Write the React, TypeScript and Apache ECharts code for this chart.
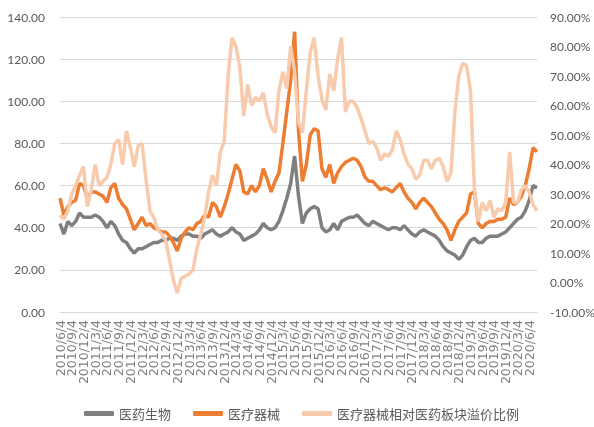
import React, { useEffect, useRef } from "react";
import * as echarts from "echarts";

// Monthly categories 2010/6/4 ... 2020/8/4
const categories: string[] = [];
for (let k = 0; k < 123; k++) {
  const t = 2010 * 12 + 5 + k;
  categories.push(`${Math.floor(t / 12)}/${(t % 12) + 1}/4`);
}

const seriesNames = ["医药生物", "医疗器械", "医疗器械相对医药板块溢价比例"];

const pharma: number[] = [
  42, 37, 43, 41, 43, 47, 45, 45, 45, 46, 45, 43, 40, 43, 41, 37, 34, 33, 30, 28, 30,
  30, 31, 32, 33, 33, 34, 34, 35, 35, 34, 36, 37, 37, 36, 36, 35, 37, 38,
  39, 37, 36, 37, 38, 40, 38, 37, 34, 35, 36, 37, 39, 42, 40, 39, 40, 43, 48, 54, 61, 74,
  55, 42, 47, 49, 50, 49, 40, 38, 39, 42, 39, 43, 44, 45, 45, 46, 44, 42, 41, 43, 42, 41,
  40, 39, 40, 40, 39, 41, 39, 37, 36, 38, 39, 38, 37, 36, 34, 31, 29, 28, 27, 25, 27, 31,
  34, 35, 33, 33, 35, 36, 36, 36, 37, 38, 40, 42, 44, 45, 48, 53, 60, 59,
];

const device: number[] = [
  54, 46, 50, 52, 53, 61, 60, 54, 57, 57, 56, 55, 52, 59, 61, 54, 51, 49, 44, 39, 42, 45,
  41, 42, 40, 39, 38, 38, 36, 33, 29,
  35, 38, 40, 39, 42, 43, 46, 45, 52, 50, 45, 50, 56, 63, 70, 67, 57, 56, 60, 57, 60, 68,
  63, 57, 62, 66, 80, 95, 110, 133,
  86, 62, 70, 84, 87, 86, 68, 64, 70, 61, 66, 69, 71, 72, 73, 72, 69, 64, 62, 62, 60, 58,
  59, 58, 57, 59, 61, 57, 54, 52, 49, 52, 54, 52, 50, 47, 44, 42, 39, 34, 39, 43, 45, 47,
  56, 57, 42, 40, 42, 43, 43, 44, 44, 45, 54, 51, 52, 55, 60, 68, 78, 76,
];

const premium: number[] = [
  22.8, 21.4, 24.3, 30.0, 32.8, 36.4, 39.3, 25.7, 31.4, 40.0, 32.8, 34.3, 35.7, 40.0, 47.1,
  48.5, 40.0, 51.4, 45.7, 39.3, 46.4, 47.1, 35.0, 24.3, 22.1, 17.8, 16.4, 14.3, 7.9, 0.7, -3.6,
  1.4, 2.1, 2.9, 4.3, 11.4, 16.4, 22.1, 30.7, 36.4, 32.8, 44.3, 47.8, 70.0, 83.0, 80.0, 72.8,
  56.4, 67.1, 60.0, 62.8, 61.4, 64.3, 57.1, 52.8, 50.7, 65.0, 71.4, 65.7, 80.0, 71.4,
  54.3, 50.7, 65.0, 78.0, 83.0, 70.0, 62.1, 58.5, 70.7, 65.0, 75.7, 83.0, 57.8, 61.4, 61.4,
  59.3, 55.7, 51.4, 47.1, 47.8, 45.7, 41.4, 43.6, 42.8, 45.0, 51.4, 48.5, 43.6, 40.0, 38.6,
  35.0, 36.4, 41.4, 41.4, 38.6, 41.4, 42.1, 39.3, 34.3, 37.1, 57.8, 70.0, 74.3, 73.5, 65.0,
  31.4, 20.7, 27.1, 24.3, 27.8, 22.1, 25.0, 24.3, 27.1, 44.3, 27.1, 27.1, 31.4, 32.8, 30.7,
  26.4, 24.3,
];

const colors = ["#7F7F7F", "#ED7D31", "#F8CBAD"];

export default function App() {
  const ref = useRef<HTMLDivElement>(null);
  useEffect(() => {
    if (!ref.current) return;
    const chart = echarts.init(ref.current, undefined, { renderer: "svg" });
    const labelColor = "#595959";
    chart.setOption({
      animation: false,
      color: colors,
      grid: {
        left: 60,
        right: 57,
        top: 17,
        bottom: 115,
        containLabel: false,
        outerBoundsMode: "none",
      },
      legend: {
        data: seriesNames,
        left: 79,
        top: 402,
        icon: "roundRect",
        itemWidth: 30,
        itemHeight: 5,
        itemGap: 22,
        textStyle: {
          fontFamily: "Noto Sans CJK SC",
          fontSize: 13,
          color: labelColor,
        },
      },
      xAxis: {
        type: "category",
        data: categories,
        boundaryGap: false,
        axisLine: { show: true, lineStyle: { color: "#D9D9D9", width: 1 } },
        axisTick: { show: false },
        splitLine: { show: false },
        axisLabel: {
          interval: 0,
          formatter: (v: string, idx: number) => (idx % 3 === 0 && idx <= 120 ? v : ""),
          rotate: 90,
          margin: 8,
          fontFamily: "DejaVu Sans",
          fontSize: 12.5,
          color: "#808080",
        },
      },
      yAxis: [
        {
          type: "value",
          min: 0,
          max: 140,
          interval: 20,
          axisLine: { show: false },
          axisTick: { show: false },
          splitLine: { show: true, lineStyle: { color: "#D9D9D9", width: 1 } },
          axisLabel: {
            margin: 15,
            fontFamily: "Lato",
            fontSize: 12,
            color: labelColor,
            formatter: (v: number) => v.toFixed(2),
          },
        },
        {
          type: "value",
          min: -10,
          max: 90,
          interval: 10,
          position: "right",
          axisLine: { show: false },
          axisTick: { show: false },
          splitLine: { show: false },
          axisLabel: {
            margin: 13,
            fontFamily: "Lato",
            fontSize: 12,
            color: labelColor,
            formatter: (v: number) => v.toFixed(2) + "%",
          },
        },
      ],
      series: [
        {
          name: seriesNames[0],
          type: "line",
          data: pharma,
          yAxisIndex: 0,
          showSymbol: false,
          lineStyle: { width: 3.5, color: colors[0] },
          itemStyle: { color: colors[0] },
        },
        {
          name: seriesNames[1],
          type: "line",
          data: device,
          yAxisIndex: 0,
          showSymbol: false,
          lineStyle: { width: 3.5, color: colors[1] },
          itemStyle: { color: colors[1] },
        },
        {
          name: seriesNames[2],
          type: "line",
          data: premium,
          yAxisIndex: 1,
          showSymbol: false,
          lineStyle: { width: 3.5, color: colors[2] },
          itemStyle: { color: colors[2] },
        },
      ],
    });
    return () => chart.dispose();
  }, []);
  return (
    <div
      ref={ref}
      style={{ position: "fixed", left: 0, top: 0, width: 594, height: 427 }}
    />
  );
}
